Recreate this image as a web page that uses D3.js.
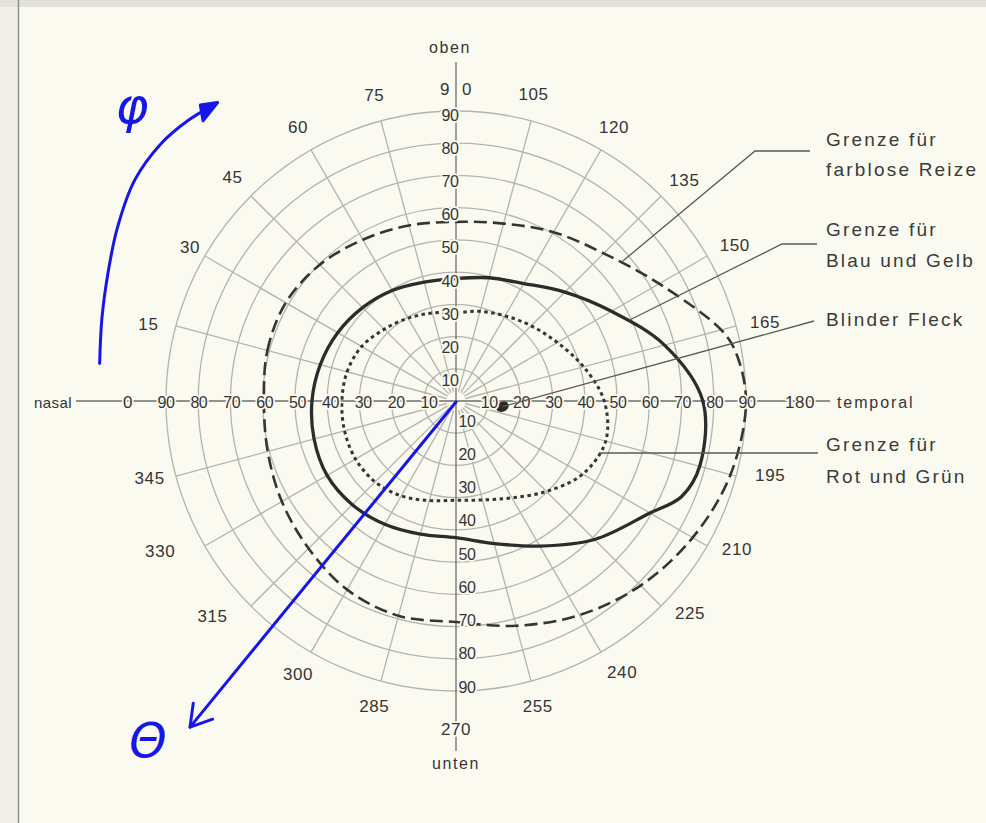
<!DOCTYPE html>
<html>
<head>
<meta charset="utf-8">
<script src="https://cdn.jsdelivr.net/npm/d3@7"></script>
<style>
  html, body { margin: 0; padding: 0; background: #fbfaf0; }
  svg { display: block; }
</style>
</head>
<body>
<svg id="chart" width="986" height="823"></svg>
<script>
// Perimeter chart of the visual field: limits for colourless, blue/yellow and red/green stimuli

// Rings of eccentricity (degrees) and meridians (degrees, 0 = nasal, 180 = temporal)
const ringValues = [10, 20, 30, 40, 50, 60, 70, 80, 90];
const meridians = [0, 15, 30, 45, 60, 75, 90, 105, 120, 135, 150, 165, 180, 195, 210, 225, 240, 255, 270, 285, 300, 315, 330, 345];
const meridianLabels = ["0", "15", "30", "45", "60", "75", "90", "105", "120", "135", "150", "165", "180", "195", "210", "225", "240", "255", "270", "285", "300", "315", "330", "345"];
const scaleLabels = ["10", "20", "30", "40", "50", "60", "70", "80", "90"];

// Grenze für farblose Reize (long dashes)
const colorlessAngles = [0, 15, 30, 45, 60, 75, 90, 105, 120, 135, 150, 165, 170, 180, 195, 210, 225, 240, 255, 270, 285, 300, 315, 330, 345];
const colorlessEcc    = [59.6, 60.6, 61, 59.8, 57.8, 56.4, 55.6, 57, 60.5, 64.8, 72.8, 85.2, 88.1, 90, 88.2, 84.8, 81, 76.7, 72.2, 68.6, 69, 67.6, 64.7, 62.4, 60.5];

// Grenze für Blau und Gelb (solid)
const blueYellowAngles = [0, 15, 30, 45, 60, 75, 90, 105, 120, 135, 150, 165, 180, 195, 203, 210, 225, 240, 255, 270, 285, 300, 315, 330, 345];
const blueYellowEcc    = [44.7, 43.6, 42.4, 41, 39.6, 38.2, 38, 39.6, 42.1, 47.8, 55.7, 67, 76.6, 78.3, 76, 69.5, 60.8, 52, 45.8, 42.4, 42.8, 44.2, 45.5, 46.2, 45.6];

// Grenze für Rot und Grün (dotted)
const redGreenAngles = [0, 15, 30, 45, 60, 75, 90, 105, 120, 135, 150, 165, 180, 195, 210, 225, 240, 255, 270, 285, 300, 315, 330, 345];
const redGreenEcc    = [35.4, 35, 33.8, 31.5, 29.7, 28.3, 27.4, 28.8, 30.5, 33, 36.3, 41, 46, 48.1, 45.4, 39.7, 34.7, 31.8, 30.8, 32, 34, 35.5, 36, 35.8];

// Blinder Fleck
const blindSpotAngle = 187;
const blindSpotEcc = 14.5;

const legendLines = [
  ["Grenze für", "farblose Reize"],
  ["Grenze für", "Blau und Gelb"],
  ["Blinder Fleck"],
  ["Grenze für", "Rot und Grün"]
];

// Hand-drawn notes: sweep of the angle φ and the eccentricity ray Θ
const phiSweepAngles = [6, 13, 20, 27, 34.5, 41, 46, 50.5];
const phiSweepEcc    = [111.2, 112.8, 115, 118, 121, 121.5, 120.5, 118.8];
const thetaRayAngle = 309.2;
const thetaRayEcc = 130.6;

// ---------------------------------------------------------------
const svg = d3.select("#chart");
const W = 986, H = 823;
const cx = 456, cy = 401, R = 290;
const ink = "#353535";
const gridColor = "#b4b4ae";
const paper = "#fbfaf0";
const font = "'Liberation Sans', Arial, sans-serif";

const r = d3.scaleLinear().domain([0, 90]).range([0, R]);
// meridian angle -> radial angle (0 rad = up, clockwise)
const ang = d3.scaleLinear().domain([0, 360]).range([-Math.PI / 2, 1.5 * Math.PI]);
const pt = (theta, v) => {
  const a = ang(theta), rr = r(v);
  return [cx + rr * Math.sin(a), cy - rr * Math.cos(a)];
};
const interp = (angles, values, theta) => {
  for (let i = 0; i < angles.length; i++) {
    const a0 = angles[i], a1 = i + 1 < angles.length ? angles[i + 1] : angles[0] + 360;
    const v1 = i + 1 < angles.length ? values[i + 1] : values[0];
    if (theta >= a0 && theta <= a1) return values[i] + (v1 - values[i]) * (theta - a0) / (a1 - a0);
  }
  return values[0];
};

// paper
svg.append("rect").attr("width", W).attr("height", H).attr("fill", paper);
svg.append("rect").attr("x", 0).attr("y", 0).attr("width", 18).attr("height", H).attr("fill", "#f1f0e8");
svg.append("rect").attr("x", 0).attr("y", 0).attr("width", W).attr("height", 7).attr("fill", "#e2e1da");
svg.append("line").attr("x1", 18.5).attr("x2", 18.5).attr("y1", 0).attr("y2", H)
  .attr("stroke", "#8f8f8a").attr("stroke-width", 1.5);

const grid = svg.append("g");
grid.selectAll("circle.ring").data(ringValues).join("circle")
  .attr("class", "ring")
  .attr("cx", cx).attr("cy", cy).attr("r", d => r(d))
  .attr("fill", "none").attr("stroke", gridColor).attr("stroke-width", 1.3);

grid.selectAll("line.spoke").data(meridians.filter(d => d % 90 !== 0)).join("line")
  .attr("class", "spoke")
  .attr("x1", d => pt(d, 3)[0]).attr("y1", d => pt(d, 3)[1])
  .attr("x2", d => pt(d, 90)[0]).attr("y2", d => pt(d, 90)[1])
  .attr("stroke", gridColor).attr("stroke-width", 1.3);

// main axes
const axes = svg.append("g").attr("stroke", "#6e6e6a").attr("stroke-width", 1.3);
axes.append("line").attr("x1", cx - 380).attr("x2", cx + 374).attr("y1", cy).attr("y2", cy);
axes.append("line").attr("x1", cx).attr("x2", cx).attr("y1", cy - 339).attr("y2", cy + 350);

// boundaries
const radial = d3.lineRadial()
  .angle(d => ang(d[0]))
  .radius(d => r(d[1]))
  .curve(d3.curveCatmullRomClosed.alpha(0.5));

const curves = svg.append("g").attr("transform", `translate(${cx},${cy})`).attr("fill", "none");
curves.append("path")
  .attr("d", radial(colorlessAngles.map((a, i) => [a, colorlessEcc[i]])))
  .attr("stroke", ink).attr("stroke-width", 2.6).attr("stroke-dasharray", "13 6");
curves.append("path")
  .attr("d", radial(blueYellowAngles.map((a, i) => [a, blueYellowEcc[i]])))
  .attr("stroke", "#2c2c2c").attr("stroke-width", 3.3);
curves.append("path")
  .attr("d", radial(redGreenAngles.map((a, i) => [a, redGreenEcc[i]])))
  .attr("stroke", ink).attr("stroke-width", 3).attr("stroke-dasharray", "3.5 3.5");

// blind spot
const bs = pt(blindSpotAngle, blindSpotEcc);
svg.append("ellipse").attr("cx", bs[0]).attr("cy", bs[1]).attr("rx", 6.5).attr("ry", 5)
  .attr("transform", `rotate(-25,${bs[0]},${bs[1]})`).attr("fill", "#2a2a2a");

// scale numbers along the axes (knock out the lines beneath)
const halo = sel => sel.attr("stroke", paper).attr("stroke-width", 3.5)
  .attr("paint-order", "stroke").attr("stroke-linejoin", "round");
const num = svg.append("g").attr("font-family", font).attr("font-size", 16)
  .attr("fill", ink).attr("text-anchor", "middle").attr("dominant-baseline", "central")
  .attr("letter-spacing", -0.4);

const vals = ringValues;
// upper half: numbers sit just inside each ring
num.selectAll("text.up").data(vals).join("text").attr("class", "up")
  .attr("x", cx - 6).attr("y", d => cy - (r(d) - 13 + d / 10))
  .text((d, i) => scaleLabels[i]).call(halo);
// lower half
num.selectAll("text.down").data(vals).join("text").attr("class", "down")
  .attr("x", cx + 11).attr("y", d => cy + (r(d) - 13 + d / 10))
  .text((d, i) => scaleLabels[i]).call(halo);
// nasal side
num.selectAll("text.left").data(vals).join("text").attr("class", "left")
  .attr("x", d => cx - (r(d) - 6 + d / 15)).attr("y", cy + 1)
  .text((d, i) => scaleLabels[i]).call(halo);
// temporal side
num.selectAll("text.right").data(vals).join("text").attr("class", "right")
  .attr("x", d => cx + r(d) + 1).attr("y", cy + 1)
  .text((d, i) => scaleLabels[i]).call(halo);

// meridian labels around the outer ring, with small hand-set offsets
const radiusNudge = { 15: 1, 30: -9, 135: 1.5, 150: 3, 165: 3, 195: 7, 210: 1.6, 240: 2, 315: 9, 330: 16 };
const angleNudge = { 15: -1, 105: -0.8, 135: 1, 150: 0.9, 165: 0.7, 195: -1.6, 210: -2.2, 225: -2.8, 240: -1.5, 315: 3.5, 330: 3, 345: 0.8 };
const labelPos = d => {
  const p = pt(d + (angleNudge[d] || 0), 90);
  const k = (26 + (radiusNudge[d] || 0)) / R;
  return [p[0] + (p[0] - cx) * k, p[1] + (p[1] - cy) * k];
};
const outer = svg.append("g").attr("font-family", font).attr("font-size", 17)
  .attr("fill", ink).attr("text-anchor", "middle").attr("dominant-baseline", "central")
  .attr("letter-spacing", 0.6);
outer.selectAll("text").data(meridians.filter(d => d % 90 !== 0)).join("text")
  .attr("x", d => labelPos(d)[0])
  .attr("y", d => labelPos(d)[1])
  .text(d => meridianLabels[meridians.indexOf(d)]);

// cardinal meridians
outer.append("text").attr("x", cx - 6).attr("y", cy - 312).attr("text-anchor", "end").text(meridianLabels[6][0]);
outer.append("text").attr("x", cx + 6).attr("y", cy - 312).attr("text-anchor", "start").text(meridianLabels[6][1]);
outer.append("text").attr("x", cx).attr("y", cy + 328).text(meridianLabels[18]).call(halo);
outer.append("text").attr("x", cx - 328).attr("y", cy + 1).text(meridianLabels[0]).call(halo);
outer.append("text").attr("x", cx + 344).attr("y", cy + 1).text(meridianLabels[12]).call(halo);

// direction words
const words = svg.append("g").attr("font-family", font).attr("font-size", 16)
  .attr("fill", ink).attr("dominant-baseline", "central").attr("letter-spacing", 1.6);
words.append("text").attr("x", cx - 6).attr("y", cy - 354).attr("text-anchor", "middle").text("oben");
words.append("text").attr("x", cx).attr("y", cy + 362).attr("text-anchor", "middle").text("unten").call(halo);
words.append("text").attr("x", cx - 403).attr("y", cy + 1).attr("text-anchor", "middle")
  .attr("font-size", 15).attr("letter-spacing", 0.4).text("nasal").call(halo);
words.append("text").attr("x", cx + 381).attr("y", cy + 1).attr("text-anchor", "start")
  .attr("letter-spacing", 1.9).text("temporal").call(halo);

// legend with leader lines
const lx = 826;
const legendY = [[139, 169], [229, 260], [319], [444, 476]];
const leg = svg.append("g").attr("font-family", font).attr("font-size", 19)
  .attr("fill", "#3a3a3a").attr("letter-spacing", 2.2).attr("dominant-baseline", "central");
legendLines.forEach((lines, i) => {
  lines.forEach((t, j) => leg.append("text").attr("x", lx).attr("y", legendY[i][j]).text(t));
});

const leaders = svg.append("g").attr("stroke", "#5a5a56").attr("stroke-width", 1.3).attr("fill", "none");
const lineGen = d3.line();
const pColorless = pt(140, interp(colorlessAngles, colorlessEcc, 140));
leaders.append("path").attr("d", lineGen([pColorless, [lx - 71, 151], [lx - 16, 151]]));
const pBlueYellow = pt(155, interp(blueYellowAngles, blueYellowEcc, 155));
leaders.append("path").attr("d", lineGen([pBlueYellow, [lx - 44, 244], [lx - 9, 244]]));
leaders.append("path").attr("d", lineGen([bs, [lx - 12, 321]]));
const pRedGreen = pt(200, interp(redGreenAngles, redGreenEcc, 200));
leaders.append("path").attr("d", lineGen([pRedGreen, [lx - 8, pRedGreen[1]]]));

// hand-drawn notes in blue ink
const blue = "#1616e8";
const notes = svg.append("g").attr("stroke", blue).attr("fill", "none")
  .attr("stroke-width", 3).attr("stroke-linecap", "round").attr("stroke-linejoin", "round");
const sweep = phiSweepAngles.map((a, i) => pt(a, phiSweepEcc[i]));
notes.append("path").attr("d", d3.line().curve(d3.curveCatmullRom)(sweep));
const tipS = sweep[sweep.length - 1], preS = sweep[sweep.length - 2];
{
  const dx = tipS[0] - preS[0], dy = tipS[1] - preS[1], L = Math.hypot(dx, dy);
  const ux = dx / L, uy = dy / L;
  const head = [
    [tipS[0] + ux * 6, tipS[1] + uy * 6],
    [tipS[0] - ux * 16 - uy * 8, tipS[1] - uy * 16 + ux * 8],
    [tipS[0] - ux * 10 + uy * 7, tipS[1] - uy * 10 - ux * 7]
  ];
  notes.append("path").attr("d", d3.line()(head) + "Z").attr("fill", blue);
}
const rayTip = pt(thetaRayAngle, thetaRayEcc);
notes.append("line").attr("x1", cx).attr("y1", cy + 1).attr("x2", rayTip[0]).attr("y2", rayTip[1]);
{
  const dx = cx - rayTip[0], dy = cy - rayTip[1], L = Math.hypot(dx, dy);
  const ux = dx / L, uy = dy / L, k = 24;
  const rot = s => [ux * Math.cos(s) - uy * Math.sin(s), ux * Math.sin(s) + uy * Math.cos(s)];
  const a1 = rot(0.55), a2 = rot(-0.55);
  notes.append("path").attr("d", lineGen([
    [rayTip[0] + a1[0] * k, rayTip[1] + a1[1] * k], rayTip, [rayTip[0] + a2[0] * k, rayTip[1] + a2[1] * k]
  ]));
}
svg.append("text").attr("x", 132).attr("y", 106).attr("font-family", "'DejaVu Sans', sans-serif")
  .attr("font-size", 50).attr("font-style", "italic").attr("fill", blue)
  .attr("text-anchor", "middle").attr("dominant-baseline", "central").text("φ");
svg.append("text").attr("x", 148).attr("y", 740).attr("font-family", "'DejaVu Sans', sans-serif")
  .attr("font-size", 48).attr("font-style", "italic").attr("fill", blue)
  .attr("text-anchor", "middle").attr("dominant-baseline", "central").text("Θ");
</script>
</body>
</html>
